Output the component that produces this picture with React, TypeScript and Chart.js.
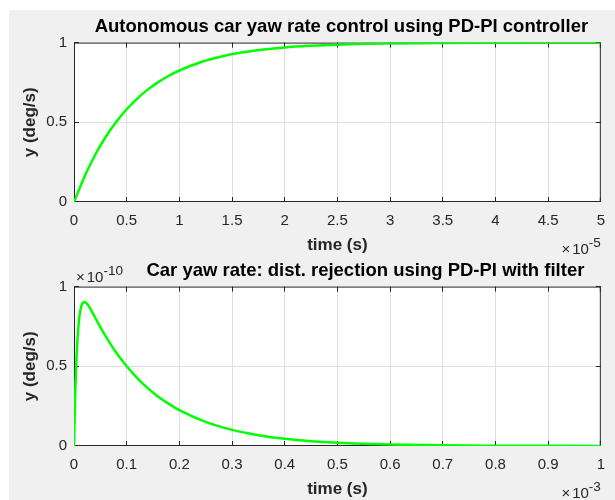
import React, { useEffect, useRef } from 'react';
import { Chart, registerables } from 'chart.js';

Chart.register(...registerables);

// ---- Data ----
// Top plot: time in units of 1e-5 s, yaw rate in deg/s
const time1 = [0, 0.1, 0.2, 0.3, 0.4, 0.5, 0.6, 0.7, 0.8, 0.9, 1.0, 1.2, 1.4, 1.6, 1.8, 2.0, 2.25, 2.5, 2.75, 3.0, 3.5, 4.0, 4.5, 5.0];
const yaw1 = [0, 0.16, 0.295, 0.408, 0.502, 0.582, 0.649, 0.705, 0.752, 0.792, 0.825, 0.877, 0.913, 0.939, 0.957, 0.97, 0.98, 0.987, 0.992, 0.995, 0.998, 0.999, 1.0, 1.0];

// Bottom plot: time in units of 1e-3 s, yaw rate in units of 1e-10 deg/s
const time2 = [0, 0.0025, 0.005, 0.01, 0.015, 0.02, 0.025, 0.03, 0.04, 0.05, 0.06, 0.07, 0.08, 0.09, 0.1, 0.12, 0.14, 0.16, 0.18, 0.2, 0.25, 0.3, 0.35, 0.4, 0.45, 0.5, 0.6, 0.7, 0.8, 0.9, 1.0];
const yaw2 = [0, 0.347, 0.572, 0.806, 0.888, 0.904, 0.892, 0.867, 0.806, 0.746, 0.689, 0.636, 0.587, 0.542, 0.5, 0.426, 0.363, 0.309, 0.264, 0.225, 0.151, 0.101, 0.068, 0.045, 0.03, 0.02, 0.009, 0.004, 0.002, 0.001, 0.0];

// Ticks
const xTicks1 = [0, 0.5, 1, 1.5, 2, 2.5, 3, 3.5, 4, 4.5, 5];
const xTickLabels1 = ['0', '0.5', '1', '1.5', '2', '2.5', '3', '3.5', '4', '4.5', '5'];
const xTicks2 = [0, 0.1, 0.2, 0.3, 0.4, 0.5, 0.6, 0.7, 0.8, 0.9, 1];
const xTickLabels2 = ['0', '0.1', '0.2', '0.3', '0.4', '0.5', '0.6', '0.7', '0.8', '0.9', '1'];
const yTicks = [0, 0.5, 1];
const yTickLabels = ['0', '0.5', '1'];

// Texts
const title1 = 'Autonomous car yaw rate control using PD-PI controller';
const title2 = 'Car yaw rate: dist. rejection using PD-PI with filter';
const xLabel = 'time (s)';
const yLabel = 'y (deg/s)';
const xExp1 = '-5';
const xExp2 = '-3';
const yExp2 = '-10';

const FAMILY = '"Liberation Sans", Arial, Helvetica, sans-serif';
const AXIS_COLOR = '#262626';
const GRID_COLOR = '#dfdfdf';
const LINE_COLOR = '#00ff00';

const matlabAxes = {
  id: 'matlabAxes',
  afterLayout(chart: any, _args: any, opts: any) {
    const shift = (opts && opts.titleShift) || 0;
    if (shift && chart.titleBlock) {
      chart.titleBlock.left += shift;
      chart.titleBlock.right += shift;
    }
  },
  beforeDraw(chart: any) {
    const { ctx, chartArea: a } = chart;
    ctx.save();
    ctx.fillStyle = '#ffffff';
    ctx.fillRect(a.left, a.top, a.right - a.left, a.bottom - a.top);
    ctx.restore();
  },
  beforeDatasetsDraw(chart: any) {
    const { ctx, chartArea: a, scales } = chart;
    const align = (p: number) => Math.round(p - 0.5) + 0.5;
    ctx.save();
    ctx.strokeStyle = AXIS_COLOR;
    ctx.lineWidth = 1;
    ctx.strokeRect(a.left + 0.5, a.top + 0.5, a.right - a.left - 1, a.bottom - a.top - 1);
    const L = 5;
    ctx.beginPath();
    scales.x.ticks.forEach((t: any) => {
      const px = Math.min(align(scales.x.getPixelForValue(t.value)), a.right - 0.5);
      ctx.moveTo(px, a.bottom);
      ctx.lineTo(px, a.bottom - L);
      ctx.moveTo(px, a.top);
      ctx.lineTo(px, a.top + L);
    });
    scales.y.ticks.forEach((t: any) => {
      const py = Math.min(align(scales.y.getPixelForValue(t.value)), a.bottom - 0.5);
      ctx.moveTo(a.left, py);
      ctx.lineTo(a.left + L, py);
      ctx.moveTo(a.right, py);
      ctx.lineTo(a.right - L, py);
    });
    ctx.stroke();
    ctx.restore();
  },
  afterDraw(chart: any, _args: any, opts: any) {
    const { ctx, chartArea: a } = chart;
    const labels = (opts && opts.labels) || [];
    labels.forEach((l: any) => {
      ctx.save();
      ctx.fillStyle = AXIS_COLOR;
      ctx.textBaseline = 'alphabetic';
      ctx.textAlign = 'left';
      const big = `15px ${FAMILY}`;
      const small = `13.5px ${FAMILY}`;
      ctx.font = big;
      const wx = ctx.measureText('\u00d7').width;
      const w10 = ctx.measureText('10').width;
      ctx.font = small;
      const we = ctx.measureText(l.exp).width;
      const gap = 2;
      const total = wx + gap + w10 + we;
      let x = l.align === 'right' ? a.right - total : a.left + l.dx;
      const y = l.side === 'bottom' ? a.bottom + l.dy : a.top + l.dy;
      ctx.font = big;
      ctx.fillText('\u00d7', x, y);
      x += wx + gap;
      ctx.fillText('10', x, y);
      x += w10;
      ctx.font = small;
      ctx.fillText(l.exp, x, y - 7);
      ctx.restore();
    });
  },
};

function makeConfig(o: {
  time: number[];
  yaw: number[];
  xTicks: number[];
  xTickLabels: string[];
  title: string;
  titlePad: { top: number; bottom: number };
  titleShift: number;
  xTitlePadBottom: number;
  labels: any[];
}): any {
  const edgeColor = (n: number) => (c: any) =>
    c.index === 0 || c.index === n - 1 ? 'rgba(0,0,0,0)' : GRID_COLOR;
  return {
    type: 'line',
    data: {
      datasets: [
        {
          data: o.time.map((t, i) => ({ x: t, y: o.yaw[i] })),
          borderColor: LINE_COLOR,
          borderWidth: 2.5,
          pointRadius: 0,
          fill: false,
          cubicInterpolationMode: 'monotone',
        },
      ],
    },
    options: {
      responsive: false,
      animation: false,
      layout: { padding: { left: 0, right: 7, top: 0, bottom: 0 } },
      plugins: {
        legend: { display: false },
        tooltip: { enabled: false },
        title: {
          display: true,
          text: o.title,
          fullSize: false,
          color: '#000000',
          font: { family: FAMILY, size: 18.5, weight: 'bold' },
          padding: o.titlePad,
        },
        matlabAxes: { labels: o.labels, titleShift: o.titleShift },
      },
      scales: {
        x: {
          type: 'linear',
          min: o.xTicks[0],
          max: o.xTicks[o.xTicks.length - 1],
          afterBuildTicks: (s: any) => {
            s.ticks = o.xTicks.map((v) => ({ value: v }));
          },
          afterFit: (s: any) => {
            s.height = 54;
          },
          ticks: {
            callback: (_v: any, i: number) => o.xTickLabels[i],
            padding: 10,
            color: AXIS_COLOR,
            font: { family: FAMILY, size: 15 },
            maxRotation: 0,
            autoSkip: false,
          },
          grid: { color: edgeColor(o.xTicks.length), drawTicks: false, lineWidth: 1 },
          border: { display: false },
          title: {
            display: true,
            text: xLabel,
            color: AXIS_COLOR,
            font: { family: FAMILY, size: 17, weight: 'bold' },
            padding: { top: 0, bottom: o.xTitlePadBottom },
          },
        },
        y: {
          type: 'linear',
          min: 0,
          max: 1,
          afterBuildTicks: (s: any) => {
            s.ticks = yTicks.map((v) => ({ value: v }));
          },
          afterFit: (s: any) => {
            s.width = 74;
          },
          ticks: {
            callback: (_v: any, i: number) => yTickLabels[i],
            padding: 7,
            color: AXIS_COLOR,
            font: { family: FAMILY, size: 15 },
          },
          grid: { color: edgeColor(yTicks.length), drawTicks: false, lineWidth: 1 },
          border: { display: false },
          title: {
            display: true,
            text: yLabel,
            color: AXIS_COLOR,
            font: { family: FAMILY, size: 17, weight: 'bold' },
            padding: { top: 20, bottom: 0 },
          },
        },
      },
    },
    plugins: [matlabAxes],
  };
}

export default function App() {
  const ref1 = useRef<HTMLCanvasElement | null>(null);
  const ref2 = useRef<HTMLCanvasElement | null>(null);

  useEffect(() => {
    if (!ref1.current || !ref2.current) return;
    const c1 = new Chart(
      ref1.current,
      makeConfig({
        time: time1,
        yaw: yaw1,
        xTicks: xTicks1,
        xTickLabels: xTickLabels1,
        title: title1,
        titlePad: { top: 16.2, bottom: 4.2 },
        titleShift: 4,
        xTitlePadBottom: 0,
        labels: [{ exp: xExp1, align: 'right', side: 'bottom', dy: 52 }],
      })
    );
    const c2 = new Chart(
      ref2.current,
      makeConfig({
        time: time2,
        yaw: yaw2,
        xTicks: xTicks2,
        xTickLabels: xTickLabels2,
        title: title2,
        titlePad: { top: 4.2, bottom: 4.2 },
        titleShift: 28,
        xTitlePadBottom: 0,
        labels: [
          { exp: xExp2, align: 'right', side: 'bottom', dy: 52 },
          { exp: yExp2, align: 'left', side: 'top', dx: 2, dy: -5 },
        ],
      })
    );
    return () => {
      c1.destroy();
      c2.destroy();
    };
  }, []);

  return (
    <div style={{ position: 'absolute', left: 0, top: 0, width: 615, height: 500, overflow: 'hidden' }}>
      <div
        style={{ position: 'absolute', left: 9, top: 10, width: 606, height: 490, background: '#f0f0f0' }}
      />
      <canvas
        ref={ref1}
        width={615}
        height={256}
        style={{ position: 'absolute', left: 0, top: 0, display: 'block' }}
      />
      <canvas
        ref={ref2}
        width={615}
        height={244}
        style={{ position: 'absolute', left: 0, top: 256, display: 'block' }}
      />
    </div>
  );
}
